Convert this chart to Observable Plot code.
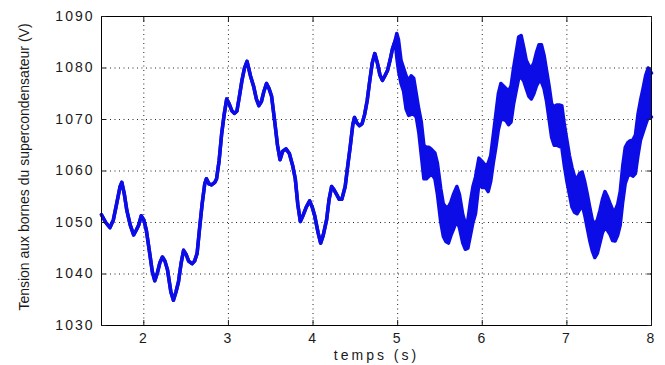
<!DOCTYPE html>
<html><head><meta charset="utf-8">
<script src="https://cdn.jsdelivr.net/npm/d3@7"></script>
<script src="https://cdn.jsdelivr.net/npm/@observablehq/plot@0.6"></script>
<style>
body{margin:0;background:#fff;}
</style>
</head><body><div id="chart"></div>
<script>
const time = [1.50,1.55,1.60,1.64,1.68,1.72,1.74,1.77,1.80,1.84,1.88,1.91,1.94,1.97,2.00,2.03,2.07,2.10,2.13,2.16,2.19,2.22,2.25,2.28,2.32,2.35,2.38,2.41,2.44,2.47,2.50,2.53,2.57,2.60,2.63,2.66,2.69,2.72,2.74,2.77,2.80,2.84,2.86,2.89,2.92,2.95,2.98,3.01,3.04,3.07,3.10,3.13,3.16,3.19,3.22,3.26,3.30,3.33,3.36,3.39,3.42,3.45,3.48,3.51,3.55,3.58,3.61,3.64,3.68,3.72,3.76,3.79,3.82,3.85,3.88,3.92,3.96,3.99,4.02,4.06,4.09,4.12,4.16,4.19,4.22,4.25,4.28,4.31,4.34,4.38,4.41,4.44,4.47,4.49,4.52,4.55,4.58,4.61,4.64,4.67,4.70,4.73,4.76,4.79,4.82,4.85,4.88,4.91,4.94,4.97,4.99,
5.01,5.04,5.07,5.10,5.13,5.16,5.19,5.22,5.25,5.28,5.31,5.34,5.37,5.40,5.44,5.47,5.51,5.54,5.57,5.60,5.63,5.66,5.70,5.73,5.77,5.80,5.83,5.86,5.89,5.92,5.96,6.00,6.04,6.07,6.10,6.13,6.16,6.19,6.22,6.25,6.28,6.31,6.34,6.37,6.40,6.43,6.46,6.49,6.52,6.55,6.58,6.61,6.64,6.67,6.70,6.73,6.76,6.79,6.82,6.85,6.88,6.91,6.94,6.97,7.00,7.03,7.06,7.09,7.12,7.15,7.18,7.21,7.24,7.27,7.30,7.33,7.36,7.39,7.42,7.45,7.48,7.51,7.54,7.57,7.60,7.63,7.66,7.69,7.72,7.75,7.78,7.81,7.84,7.87,7.90,7.93,7.96,8.00];
const vLow = [1051.5,1050,1049,1050.5,1053.7,1057,1057.8,1055.5,1052.3,1049.5,1047.6,1048.5,1049.5,1051.3,1050.5,1048.5,1044,1040.5,1038.7,1040.2,1042.2,1043.3,1042.5,1040.8,1036.5,1034.9,1036.5,1038.5,1042,1044.6,1043.8,1042.5,1042,1042.5,1044,1049,1053.7,1057.5,1058.5,1057.5,1057.3,1057.8,1058.5,1062,1067.2,1071,1074,1073,1071.7,1071.2,1071.6,1074.5,1077.6,1080,1081.3,1078.5,1076.3,1074,1072.7,1073.5,1075.5,1077,1076,1074.5,1069.2,1065,1062.2,1063.8,1064.3,1063.4,1061,1058.5,1053.5,1050.2,1051.3,1053,1054.2,1053,1051.3,1048,1046,1047.5,1050.5,1054.5,1057,1056.3,1055.4,1054.5,1054.5,1057,1061,1064.8,1069,1070.4,1069.3,1068.8,1069.2,1071,1073.7,1077.5,1081,1082.8,1081,1078.7,1077.6,1078.5,1079.5,1081.5,1083.8,1085.3,1082,
1079.5,1077,1075.5,1072,1070.8,1071,1071,1070.5,1067.5,1063,1058.5,1058.5,1059,1059.5,1058.5,1055.5,1050,1047.3,1046.3,1046,1047.5,1048.7,1050.4,1049,1046,1044.8,1045,1047.5,1050,1051.7,1057.5,1056.8,1056.8,1056,1058,1061.5,1064.5,1068,1070,1070,1069.8,1069,1069.5,1073,1075.5,1078,1078.2,1077.5,1076,1074.5,1074,1075,1076.5,1077.5,1077.3,1076,1073.5,1070,1066.5,1065,1065,1064.8,1064.6,1061,1058,1055.5,1053,1052,1051.7,1052.5,1053.5,1051.5,1049,1046.5,1044.5,1043.2,1044,1046,1048,1049,1048.5,1047.7,1046.5,1046.4,1047.5,1049.5,1054,1057.6,1059,1059.4,1059,1059.5,1063,1066,1067.5,1069,1070.4,1070.5];
const vHigh = [1051.5,1050,1049,1050.5,1053.7,1057,1057.8,1055.5,1052.3,1049.5,1047.6,1048.5,1049.5,1051.3,1050.5,1048.5,1044,1040.5,1038.7,1040.2,1042.2,1043.3,1042.5,1040.8,1036.5,1034.9,1036.5,1038.5,1042,1044.6,1043.8,1042.5,1042,1042.5,1044,1049,1053.7,1057.5,1058.5,1057.5,1057.3,1057.8,1058.5,1062,1067.2,1071,1074,1073,1071.7,1071.2,1071.6,1074.5,1077.6,1080,1081.3,1078.5,1076.3,1074,1072.7,1073.5,1075.5,1077,1076,1074.5,1069.2,1065,1062.2,1063.8,1064.3,1063.4,1061,1058.5,1053.5,1050.2,1051.3,1053,1054.2,1053,1051.3,1048,1046,1047.5,1050.5,1054.5,1057,1056.3,1055.4,1054.5,1054.5,1057,1061,1064.8,1069,1070.4,1069.3,1068.8,1069.2,1071,1073.7,1077.5,1081,1082.8,1081,1078.7,1077.6,1078.5,1079.5,1081.5,1083.8,1085.3,1086.7,
1085.5,1081.5,1080,1078.5,1077.5,1078.5,1078,1075,1072,1069.5,1065,1064.6,1064.6,1064.2,1063.5,1061.5,1056.5,1053.6,1053,1053,1054,1055.5,1057,1055.5,1051.5,1049.8,1050.5,1054,1057,1058.8,1062.5,1061.8,1061,1061.5,1063,1067,1071,1075,1077,1076.5,1076,1075.5,1076.5,1080,1083,1086,1086.3,1084,1081.5,1080.5,1080,1081,1083,1084.5,1084.5,1082.5,1079.5,1076.5,1073,1072.5,1072.8,1072.8,1072.7,1069,1066,1063,1060.7,1059,1058.5,1059.5,1059.8,1058,1055.6,1053,1050.5,1049.6,1050.5,1052.3,1054.5,1056,1055,1053.7,1052.5,1052.3,1053.5,1056,1061,1064.6,1065.5,1065.9,1066,1067,1071,1073.7,1076,1078.5,1080,1079];
const xTicks = [2, 3, 4, 5, 6, 7, 8];
const yTicks = [1030, 1040, 1050, 1060, 1070, 1080, 1090];
const xTitle = "temps (s)";
const yTitle = "Tension aux bornes du supercondensateur (V)";

const rows = time.map((t, i) => ({t, lo: vLow[i], hi: vHigh[i]}));
const blue = "#0c0ce6";
const gridStyle = {stroke: "#000", strokeOpacity: 0.85, strokeDasharray: "1,3.5"};

const chart = Plot.plot({
  width: 665, height: 365,
  marginLeft: 101, marginRight: 14, marginTop: 16, marginBottom: 40,
  style: {fontFamily: "'Liberation Sans', Arial, sans-serif", fontSize: "14px", color: "#1a1a1a", background: "#fff"},
  x: {domain: [1.5, 8]},
  y: {domain: [1030, 1090]},
  marks: [
    Plot.gridX(xTicks, gridStyle),
    Plot.gridY(yTicks, gridStyle),
    Plot.areaY(rows, {x: "t", y1: "lo", y2: "hi", fill: blue}),
    Plot.lineY(rows, {x: "t", y: "lo", stroke: blue, strokeWidth: 3.5}),
    Plot.lineY(rows, {x: "t", y: "hi", stroke: blue, strokeWidth: 3.5}),
    Plot.frame({stroke: "#000"}),
    Plot.axisX(xTicks, {anchor: "bottom", tickSize: -5, tickPadding: 13, tickFormat: "d", label: null}),
    Plot.axisX(xTicks, {anchor: "top", tickSize: -5, tickFormat: () => "", label: null}),
    Plot.axisY(yTicks, {anchor: "left", tickSize: -5, tickPadding: 12, tickFormat: "d", label: null}),
    Plot.axisY(yTicks, {anchor: "right", tickSize: -5, tickFormat: () => "", label: null}),
    Plot.text([xTitle], {frameAnchor: "bottom", dy: 34, fontSize: 14, fill: "#1a1a1a", textAnchor: "middle"}),
    Plot.text([yTitle], {frameAnchor: "left", dx: -77, dy: -4, rotate: -90, fontSize: 14, fill: "#1a1a1a", textAnchor: "middle"})
  ]
});
d3.select(chart).selectAll("text").each(function() {
  const s = d3.select(this);
  const txt = s.text();
  if (txt === yTitle) return;
  s.style("letter-spacing", txt === xTitle ? "3px" : "2px");
});
document.getElementById("chart").append(chart);
</script>
</body></html>
